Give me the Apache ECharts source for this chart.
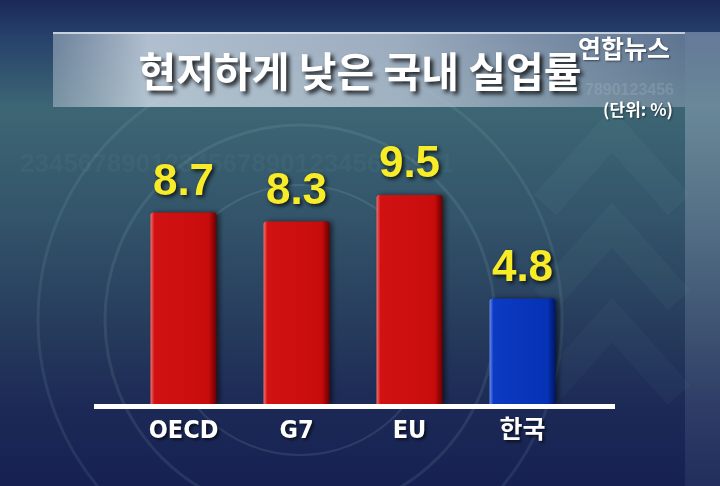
<!DOCTYPE html>
<html>
<head>
<meta charset="utf-8">
<script src="https://cdn.jsdelivr.net/npm/echarts@6/dist/echarts.min.js"></script>
<style>
  html, body { margin: 0; padding: 0; background: #1b2a5c; }
  #chart { width: 720px; height: 486px; }
</style>
</head>
<body>
<div id="chart"></div>
<script>
  // 데이터
  var categories = ['OECD', 'G7', 'EU', '한국'];
  var values = [8.7, 8.3, 9.5, 4.8];
  var highlight = [false, false, false, true];
  var titleText = '현저하게 낮은 국내 실업률';
  var unitText = '(단위: %)';
  var logoText = '연합뉴스';

  var redBar = new echarts.graphic.LinearGradient(0, 0, 1, 0, [
    { offset: 0, color: '#f07070' },
    { offset: 0.06, color: '#d21212' },
    { offset: 0.88, color: '#c80c0c' },
    { offset: 1, color: '#6a0000' }
  ]);
  var blueBar = new echarts.graphic.LinearGradient(0, 0, 1, 0, [
    { offset: 0, color: '#6a8cf0' },
    { offset: 0.06, color: '#0c3ac2' },
    { offset: 0.88, color: '#0632b4' },
    { offset: 1, color: '#001666' }
  ]);

  var chart = echarts.init(document.getElementById('chart'));

  var bgGraphics = [
    // 배경 원
    { type: 'circle', z: -10, shape: { cx: 300, cy: 320, r: 135 }, style: { fill: 'none', stroke: 'rgba(170,220,210,0.13)', lineWidth: 2 } },
    { type: 'circle', z: -10, shape: { cx: 300, cy: 320, r: 195 }, style: { fill: 'none', stroke: 'rgba(170,220,210,0.11)', lineWidth: 3 } },
    { type: 'circle', z: -10, shape: { cx: 300, cy: 320, r: 262 }, style: { fill: 'none', stroke: 'rgba(170,220,210,0.10)', lineWidth: 3 } },
    // 화살표 무늬
    { type: 'polyline', z: -10, shape: { points: [[545, 205], [612, 130], [679, 205]] }, style: { stroke: 'rgba(130,190,180,0.06)', lineWidth: 30, fill: 'none' } },
    { type: 'polyline', z: -10, shape: { points: [[545, 300], [612, 225], [679, 300]] }, style: { stroke: 'rgba(130,190,180,0.05)', lineWidth: 30, fill: 'none' } },
    { type: 'polyline', z: -10, shape: { points: [[545, 395], [612, 320], [679, 395]] }, style: { stroke: 'rgba(130,190,180,0.045)', lineWidth: 30, fill: 'none' } },
    // 숫자 무늬
    { type: 'text', z: -10, left: 20, top: 152, style: { text: '234567890123456789012345678901', fill: 'rgba(120,190,170,0.07)', font: 'bold 26px "Liberation Sans"' } },
    { type: 'text', z: -10, left: 585, top: 83, style: { text: '7890123456', fill: 'rgba(170,190,205,0.35)', font: 'bold 16px "Liberation Sans"' } },
    // 오른쪽 패널
    { type: 'rect', z: -9, shape: { x: 685, y: 32, width: 35, height: 454 }, style: { fill: new echarts.graphic.LinearGradient(0, 0, 0, 1, [
      { offset: 0, color: 'rgba(190,205,220,0.42)' },
      { offset: 1, color: 'rgba(120,140,170,0.12)' }
    ]) } },
    // 제목 띠
    { type: 'rect', z: -8, shape: { x: 53, y: 32, width: 632, height: 75 }, style: { fill: new echarts.graphic.LinearGradient(0, 0, 1, 0, [
      { offset: 0, color: 'rgba(170,185,200,0.55)' },
      { offset: 0.15, color: 'rgba(200,212,224,0.85)' },
      { offset: 0.55, color: 'rgba(185,198,212,0.8)' },
      { offset: 1, color: 'rgba(140,158,178,0.55)' }
    ]) } },
    { type: 'rect', z: -7, shape: { x: 53, y: 32, width: 632, height: 2 }, style: { fill: 'rgba(235,240,248,0.7)' } },
    // 제목
    { type: 'text', z: 5, left: 'center', top: 51, style: {
      text: titleText, fill: '#ffffff', font: 'bold 41px "Noto Sans CJK KR"',
      textShadowColor: 'rgba(0,0,0,0.85)', textShadowBlur: 4, textShadowOffsetX: 3, textShadowOffsetY: 3
    } },
    { type: 'text', z: 5, right: 50, top: 36, style: {
      text: logoText, fill: '#ffffff', font: 'bold 25px "Noto Sans CJK KR"',
      textShadowColor: 'rgba(0,0,0,0.5)', textShadowBlur: 2, textShadowOffsetX: 1, textShadowOffsetY: 1
    } },
    { type: 'text', z: 5, right: 47, top: 101, style: {
      text: unitText, fill: '#ffffff', font: 'bold 17px "Noto Sans CJK KR"',
      textShadowColor: 'rgba(0,0,0,0.5)', textShadowBlur: 2, textShadowOffsetX: 1, textShadowOffsetY: 1
    } }
  ];

  chart.setOption({
    backgroundColor: new echarts.graphic.LinearGradient(0, 0, 0, 1, [
      { offset: 0, color: '#1a2858' },
      { offset: 0.07, color: '#26406a' },
      { offset: 0.22, color: '#3d6674' },
      { offset: 0.45, color: '#33546a' },
      { offset: 0.68, color: '#263b5c' },
      { offset: 0.84, color: '#1c2956' },
      { offset: 1, color: '#162152' }
    ]),
    animation: false,
    grid: { left: 127, right: 141, top: 184, bottom: 82 },
    xAxis: {
      type: 'category',
      data: categories,
      axisLine: { show: false },
      axisTick: { show: false },
      axisLabel: {
        margin: 15,
        color: '#ffffff',
        fontFamily: "'Liberation Sans Narrow', 'DejaVu Sans Condensed', 'Noto Sans CJK KR'",
        fontWeight: 'bold',
        fontSize: 25,
        textShadowColor: 'rgba(0,0,0,0.6)',
        textShadowBlur: 3,
        textShadowOffsetX: 2,
        textShadowOffsetY: 2
      }
    },
    yAxis: {
      type: 'value',
      min: 0,
      max: 10,
      show: false,
      splitLine: { show: false }
    },
    series: [{
      type: 'bar',
      barWidth: 66,
      data: values.map(function (v, i) {
        return { value: v, itemStyle: { color: highlight[i] ? blueBar : redBar } };
      }),
      itemStyle: {
        borderRadius: [3, 3, 0, 0],
        shadowColor: 'rgba(0,0,0,0.55)',
        shadowBlur: 5,
        shadowOffsetX: 3,
        shadowOffsetY: 0
      },
      label: {
        show: true,
        position: 'top',
        distance: 8,
        color: '#f8ec28',
        fontFamily: "'Liberation Sans', Arial, sans-serif",
        fontWeight: 'bold',
        fontSize: 44,
        textShadowColor: 'rgba(0,0,0,0.8)',
        textShadowBlur: 4,
        textShadowOffsetX: 2,
        textShadowOffsetY: 2
      }
    }],
    graphic: bgGraphics
  });

  // 기준선 (축선보다 넓게 그림)
  var y0 = chart.convertToPixel({ yAxisIndex: 0 }, 0);
  bgGraphics.push({
    type: 'rect', z: 10, shape: { x: 94, y: y0, width: 521, height: 5 }, style: { fill: '#ffffff' }
  });
  chart.setOption({ graphic: bgGraphics });
</script>
</body>
</html>
